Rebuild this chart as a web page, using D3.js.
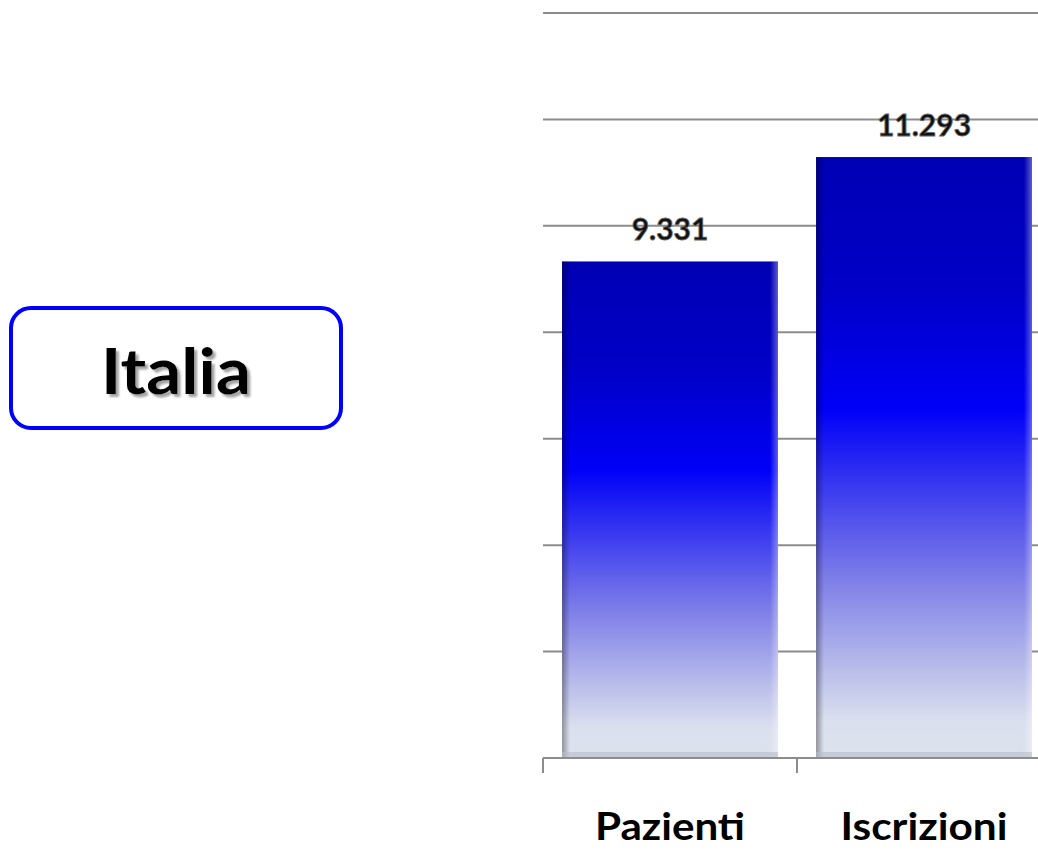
<!DOCTYPE html>
<html>
<head>
<meta charset="utf-8">
<script src="https://cdn.jsdelivr.net/npm/d3@7"></script>
<style>
  html, body { margin: 0; padding: 0; background: #ffffff; }
  svg { display: block; }
</style>
</head>
<body>
<svg id="chart" width="1038" height="851"></svg>
<script>
// ---- data ----
const categories = ["Pazienti", "Iscrizioni"];
const values = [9331, 11293];
const valueLabels = ["9.331", "11.293"];
const tickValues = [0, 2000, 4000, 6000, 8000, 10000, 12000, 14000];
const title = "Italia";

const svg = d3.select("#chart");
const W = 1038, H = 851;
const plot = { left: 543, right: 1051, top: 13, bottom: 758 };

const x = d3.scaleBand()
  .domain(categories)
  .range([plot.left, plot.right])
  .paddingInner(0.15)
  .paddingOuter(0.075);

const y = d3.scaleLinear()
  .domain([0, 14000])
  .range([plot.bottom, plot.top]);

const defs = svg.append("defs");
const grad = defs.append("linearGradient")
  .attr("id", "barGrad")
  .attr("x1", 0).attr("y1", 0).attr("x2", 0).attr("y2", 1);
[
  [0, "#0000b4"],
  [0.22, "#0000c8"],
  [0.42, "#0000f8"],
  [0.55, "#3a3af0"],
  [0.7, "#7d7de8"],
  [0.84, "#b4b8ea"],
  [0.94, "#dbe0ef"],
  [1, "#dde2ee"]
].forEach(([o, c]) => grad.append("stop").attr("offset", o).attr("stop-color", c));

const edgeL = defs.append("linearGradient")
  .attr("id", "edgeL").attr("x1", 0).attr("y1", 0).attr("x2", 1).attr("y2", 0);
edgeL.append("stop").attr("offset", 0).attr("stop-color", "#000").attr("stop-opacity", 0.35);
edgeL.append("stop").attr("offset", 1).attr("stop-color", "#000").attr("stop-opacity", 0);
const edgeR = defs.append("linearGradient")
  .attr("id", "edgeR").attr("x1", 0).attr("y1", 0).attr("x2", 1).attr("y2", 0);
edgeR.append("stop").attr("offset", 0).attr("stop-color", "#fff").attr("stop-opacity", 0);
edgeR.append("stop").attr("offset", 1).attr("stop-color", "#fff").attr("stop-opacity", 0.35);

const shadowF = defs.append("filter").attr("id", "txtShadow")
  .attr("x", "-10%").attr("y", "-10%").attr("width", "130%").attr("height", "140%");
shadowF.append("feDropShadow").attr("dx", 3).attr("dy", 3).attr("stdDeviation", 1)
  .attr("flood-color", "#999").attr("flood-opacity", 0.9);

const clip = defs.append("clipPath").attr("id", "plotClip");
clip.append("rect").attr("x", 0).attr("y", 0).attr("width", W).attr("height", H);

// ---- gridlines ----
const g = svg.append("g").attr("clip-path", "url(#plotClip)");
g.append("g").selectAll("line")
  .data(tickValues.filter(d => d > 0))
  .join("line")
  .attr("x1", plot.left).attr("x2", plot.right)
  .attr("y1", d => y(d)).attr("y2", d => y(d))
  .attr("stroke", "#8c8c8c").attr("stroke-width", 2);

// ---- bars ----
const bars = g.append("g").selectAll("g.bar")
  .data(categories.map((c, i) => ({ c, v: values[i], label: valueLabels[i] })))
  .join("g").attr("class", "bar");

bars.append("rect")
  .attr("x", d => x(d.c))
  .attr("y", d => y(d.v))
  .attr("width", x.bandwidth())
  .attr("height", d => y(0) - y(d.v))
  .attr("fill", "url(#barGrad)");
bars.append("rect")
  .attr("x", d => x(d.c))
  .attr("y", d => y(d.v))
  .attr("width", 8)
  .attr("height", d => y(0) - y(d.v))
  .attr("fill", "url(#edgeL)");
bars.append("rect")
  .attr("x", d => x(d.c) + x.bandwidth() - 8)
  .attr("y", d => y(d.v))
  .attr("width", 8)
  .attr("height", d => y(0) - y(d.v))
  .attr("fill", "url(#edgeR)");
bars.append("rect")
  .attr("x", d => x(d.c))
  .attr("y", y(0) - 6)
  .attr("width", x.bandwidth())
  .attr("height", 6)
  .attr("fill", "#b8bcc8").attr("opacity", 0.6);

// ---- value labels ----
bars.append("text")
  .attr("x", d => x(d.c) + x.bandwidth() / 2)
  .attr("y", d => y(d.v) - 21)
  .attr("text-anchor", "middle")
  .attr("font-family", "Lato, 'Open Sans', sans-serif")
  .attr("font-weight", "bold")
  .attr("font-size", 30)
  .attr("fill", "#111")
  .attr("stroke", "#666").attr("stroke-width", 0.8)
  .text(d => d.label);

// ---- x axis ----
const ax = svg.append("g").attr("clip-path", "url(#plotClip)");
ax.append("line")
  .attr("x1", plot.left).attr("x2", plot.right)
  .attr("y1", y(0)).attr("y2", y(0))
  .attr("stroke", "#8c8c8c").attr("stroke-width", 2);
ax.selectAll("line.tick")
  .data(categories.map(c => x(c) - x.step() * 0.075).concat([plot.right]))
  .join("line").attr("class", "tick")
  .attr("x1", d => d).attr("x2", d => d)
  .attr("y1", y(0)).attr("y2", y(0) + 15)
  .attr("stroke", "#8c8c8c").attr("stroke-width", 2);

const catW = { "Pazienti": 150, "Iscrizioni": 167 };
ax.selectAll("text.cat")
  .data(categories)
  .join("text").attr("class", "cat")
  .attr("x", d => x(d) + x.bandwidth() / 2)
  .attr("y", 840)
  .attr("text-anchor", "middle")
  .attr("font-family", "Lato, 'Open Sans', sans-serif")
  .attr("font-weight", "bold")
  .attr("font-size", 38)
  .attr("textLength", d => catW[d])
  .attr("lengthAdjust", "spacingAndGlyphs")
  .attr("fill", "#000")
  .text(d => d);

// ---- title box ----
svg.append("rect")
  .attr("x", 11).attr("y", 308)
  .attr("width", 330).attr("height", 120)
  .attr("rx", 20).attr("ry", 20)
  .attr("fill", "#fff")
  .attr("stroke", "#0000ff").attr("stroke-width", 4);
svg.append("text")
  .attr("x", 176).attr("y", 394)
  .attr("text-anchor", "middle")
  .attr("font-family", "Lato, 'Open Sans', sans-serif")
  .attr("font-weight", "bold")
  .attr("font-size", 64)
  .attr("textLength", 150)
  .attr("lengthAdjust", "spacingAndGlyphs")
  .attr("fill", "#000")
  .attr("filter", "url(#txtShadow)")
  .text(title);
</script>
</body>
</html>
